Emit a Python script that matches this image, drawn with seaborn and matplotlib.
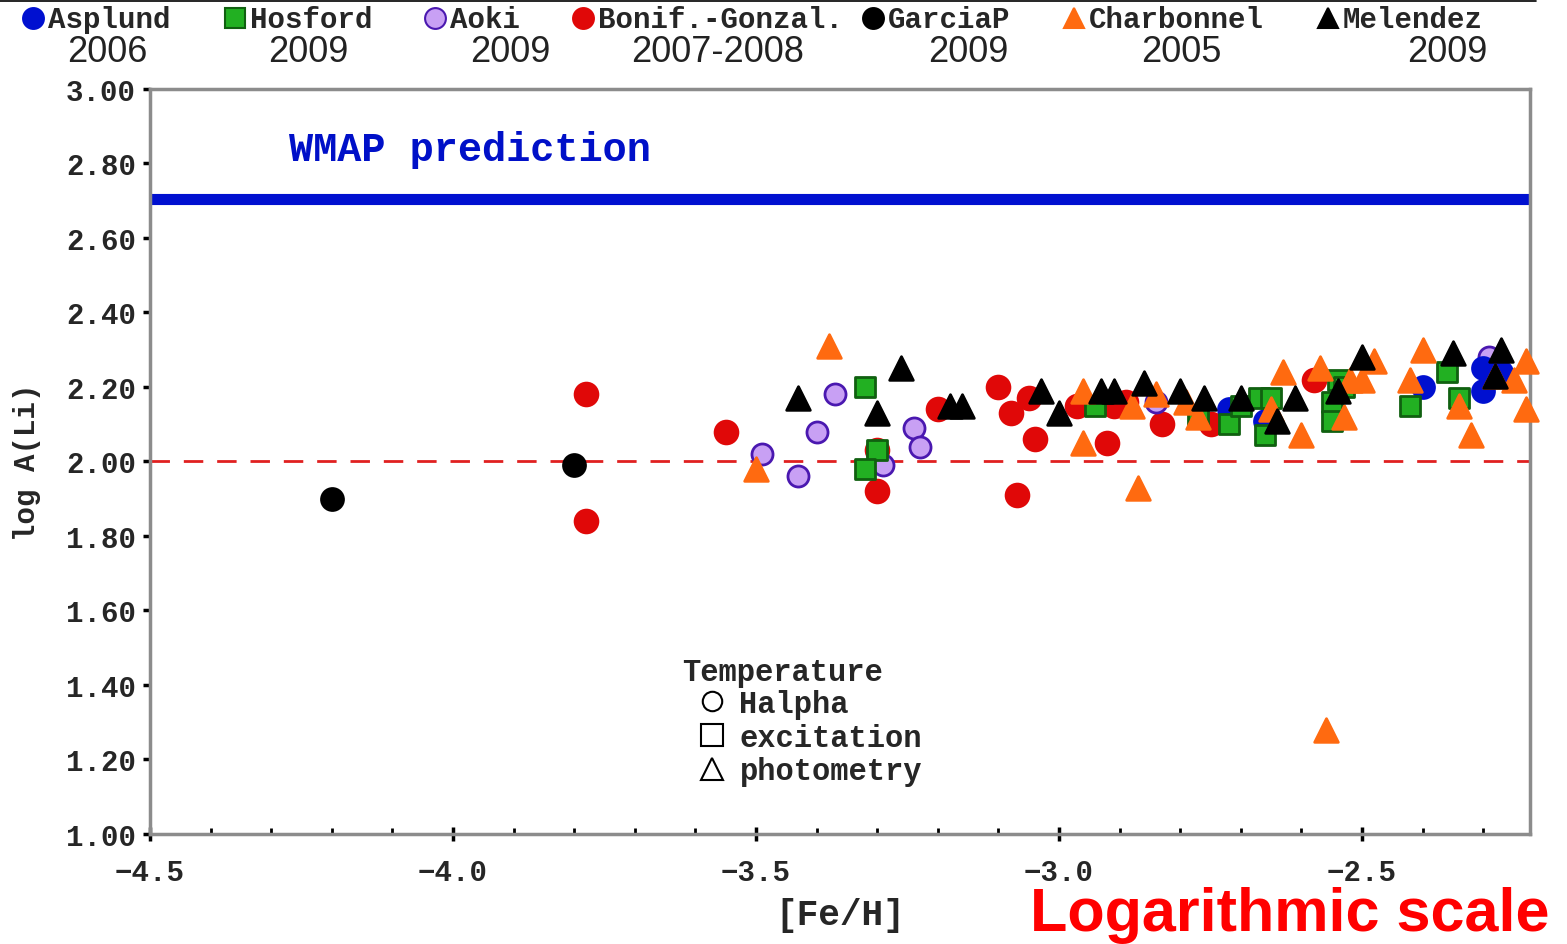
import numpy as np
import pandas as pd
import matplotlib
matplotlib.use("Agg")
import matplotlib.pyplot as plt
from matplotlib.lines import Line2D
from matplotlib.ticker import MultipleLocator
import seaborn as sns

# ------------------------
# DATA
# ------------------------

authors = ["Asplund", "Hosford", "Aoki", "Bonif.-Gonzal.", "GarciaP", "Charbonnel", "Melendez"]
years = ["2006", "2009", "2009", "2007-2008", "2009", "2005", "2009"]

asplund_feh = [-2.72, -2.66, -2.40, -2.30, -2.30, -2.27]
asplund_li = [2.14, 2.11, 2.20, 2.25, 2.19, 2.24]

hosford_feh = [-3.32, -3.30, -3.32, -2.94, -2.77, -2.72, -2.70, -2.67, -2.65, -2.66,
               -2.55, -2.55, -2.54, -2.53, -2.42, -2.36, -2.34]
hosford_li = [2.20, 2.03, 1.98, 2.15, 2.12, 2.10, 2.15, 2.17, 2.17, 2.07,
              2.16, 2.11, 2.22, 2.20, 2.15, 2.24, 2.17]

aoki_feh = [-3.49, -3.43, -3.40, -3.37, -3.29, -3.24, -3.23, -2.84, -2.29]
aoki_li = [2.02, 1.96, 2.08, 2.18, 1.99, 2.09, 2.04, 2.16, 2.28]

bonif_feh = [-3.78, -3.78, -3.55, -3.30, -3.30, -3.20, -3.10, -3.08, -3.05, -3.04,
             -3.07, -2.97, -2.92, -2.91, -2.89, -2.83, -2.75, -2.58]
bonif_li = [2.18, 1.84, 2.08, 1.92, 2.03, 2.14, 2.20, 2.13, 2.17, 2.06,
            1.91, 2.15, 2.05, 2.15, 2.16, 2.10, 2.10, 2.22]

garcia_feh = [-4.20, -3.80]
garcia_li = [1.90, 1.99]

charb_feh = [-3.50, -3.38, -2.96, -2.96, -2.87, -2.88, -2.84, -2.79, -2.77, -2.65,
             -2.63, -2.60, -2.57, -2.53, -2.52, -2.50, -2.48, -2.42, -2.40, -2.34,
             -2.32, -2.28, -2.25, -2.23, -2.23, -2.56]
charb_li = [1.98, 2.31, 2.05, 2.19, 1.93, 2.15, 2.18, 2.16, 2.12, 2.14,
            2.24, 2.07, 2.25, 2.12, 2.22, 2.22, 2.27, 2.22, 2.30, 2.15,
            2.07, 2.23, 2.22, 2.27, 2.14, 1.28]

melendez_feh = [-3.43, -3.26, -3.30, -3.18, -3.16, -3.03, -3.00, -2.93, -2.91, -2.86,
                -2.80, -2.76, -2.70, -2.61, -2.64, -2.54, -2.50, -2.35, -2.27, -2.28]
melendez_li = [2.17, 2.25, 2.13, 2.15, 2.15, 2.19, 2.13, 2.19, 2.19, 2.21,
               2.19, 2.17, 2.17, 2.17, 2.11, 2.19, 2.28, 2.29, 2.30, 2.23]

wmap_li = 2.705
spite_li = 2.00

# ------------------------
# STYLES
# ------------------------

styles = {
    "Asplund": dict(marker="o", face="#0010d0", edge="#0010d0", size=250),
    "Hosford": dict(marker="s", face="#22b022", edge="#106010", size=200),
    "Aoki": dict(marker="o", face="#c8a0f4", edge="#4a18b0", size=230),
    "Bonif.-Gonzal.": dict(marker="o", face="#e00808", edge="#e00808", size=270),
    "GarciaP": dict(marker="o", face="#000000", edge="#000000", size=250),
    "Charbonnel": dict(marker="^", face="#ff6a10", edge="#ff6a10", size=290),
    "Melendez": dict(marker="^", face="#000000", edge="#000000", size=290),
}

frames = []
for name, fe, li in [
    ("GarciaP", garcia_feh, garcia_li),
    ("Bonif.-Gonzal.", bonif_feh, bonif_li),
    ("Aoki", aoki_feh, aoki_li),
    ("Asplund", asplund_feh, asplund_li),
    ("Hosford", hosford_feh, hosford_li),
    ("Charbonnel", charb_feh, charb_li),
    ("Melendez", melendez_feh, melendez_li),
]:
    frames.append(pd.DataFrame({"author": name, "feh": fe, "li": li}))
df = pd.concat(frames, ignore_index=True)

mono = "Liberation Mono"
W, H = 1567, 945

sns.set_theme(style="white")
plt.rcParams["font.family"] = ["Liberation Mono", "DejaVu Sans"]

fig = plt.figure(figsize=(15.67, 9.45), dpi=100)
ax = fig.add_axes([0.0957, 0.1164, 0.881, 0.7884])

ax.axhline(wmap_li, color="#0010d0", linewidth=8, zorder=2)
ax.axhline(spite_li, color="#e02020", linewidth=2, dashes=(7, 5), zorder=1)

for name in df["author"].unique():
    sub = df[df["author"] == name]
    st = styles[name]
    sns.scatterplot(data=sub, x="feh", y="li", ax=ax, marker=st["marker"],
                    color=st["face"], edgecolor=st["edge"], linewidth=2,
                    s=st["size"], legend=False, zorder=3, clip_on=False)

ax.set_xlim(-4.5, -2.222)
ax.set_ylim(1.0, 3.0)
ax.set_xticks([-4.5, -4.0, -3.5, -3.0, -2.5])
ax.set_xticklabels(["\u22124.5", "\u22124.0", "\u22123.5", "\u22123.0", "\u22122.5"])
ax.set_yticks(np.arange(1.0, 3.01, 0.2))
ax.set_yticklabels([f"{v:.2f}" for v in np.arange(1.0, 3.01, 0.2)])
ax.xaxis.set_minor_locator(MultipleLocator(0.1))

for lab in ax.get_xticklabels() + ax.get_yticklabels():
    lab.set_fontweight("bold")
    lab.set_fontsize(21)

ax.tick_params(axis="y", which="major", direction="out", length=5, width=2.5,
               color="black", pad=5, left=True)
ax.tick_params(axis="x", which="major", direction="inout", length=10, width=2.5,
               color="black", pad=12, bottom=True)
ax.tick_params(axis="x", which="minor", direction="in", length=4, width=2,
               color="black", bottom=True)

for sp in ax.spines.values():
    sp.set_color("#8c8c8c")
    sp.set_linewidth(2.5)
    sp.set_visible(True)

ax.set_xlabel("[Fe/H]", fontsize=26, fontweight="bold", labelpad=8)
ax.set_ylabel("log A(Li)", fontsize=21, fontweight="bold", labelpad=18)

ax.text(-4.27, 2.84, "WMAP prediction", color="#0010c8", fontsize=29,
        fontweight="bold", va="center", ha="left", family=mono)

# temperature method legend
fig.text(682 / W, 1 - 673 / H, "Temperature", fontsize=22, fontweight="bold",
         family=mono, ha="left", va="center")
temp_handles = [
    Line2D([], [], marker="o", linestyle="none", markerfacecolor="none",
           markeredgecolor="black", markersize=14, markeredgewidth=1.5, label="Halpha"),
    Line2D([], [], marker="s", linestyle="none", markerfacecolor="none",
           markeredgecolor="black", markersize=16, markeredgewidth=1.5, label="excitation"),
    Line2D([], [], marker="^", linestyle="none", markerfacecolor="none",
           markeredgecolor="black", markersize=16, markeredgewidth=1.5, label="photometry"),
]
leg = ax.legend(handles=temp_handles, frameon=False,
                loc="upper left", bbox_to_anchor=((700 - 150) / 1381, (835 - 690) / 745),
                prop={"family": mono, "weight": "bold", "size": 22},
                handlelength=0.8, handletextpad=0.5, labelspacing=0.12,
                borderpad=0.0, borderaxespad=0.0)

# author legend along the top
name_x = [48, 250, 450, 598, 888, 1089, 1343]
year_x = [107, 308, 510, 718, 968, 1181, 1447]
for i, name in enumerate(authors):
    st = styles[name]
    fig.add_artist(Line2D([(name_x[i] - 15) / W], [1 - 19 / H], marker=st["marker"],
                          markersize=15 if st["marker"] != "s" else 14,
                          markerfacecolor=st["face"], markeredgecolor=st["edge"],
                          markeredgewidth=1.5, linestyle="none",
                          transform=fig.transFigure))
    fig.text(name_x[i] / W, 1 - 20 / H, name, fontsize=21, fontweight="bold",
             family=mono, ha="left", va="center")
    fig.text(year_x[i] / W, 1 - 52 / H, years[i], fontsize=26,
             family="Liberation Sans", ha="center", va="center", color="#222222")

fig.add_artist(Line2D([0.0, 0.98], [0.998, 0.998], color="black", linewidth=1.2,
                      transform=fig.transFigure))

fig.text(1030 / W, 1 - 916 / H, "Logarithmic scale", color="#ff0000", fontsize=44,
         fontweight="bold", family="Liberation Sans", ha="left", va="center")

fig.savefig("out.png", dpi=100)
